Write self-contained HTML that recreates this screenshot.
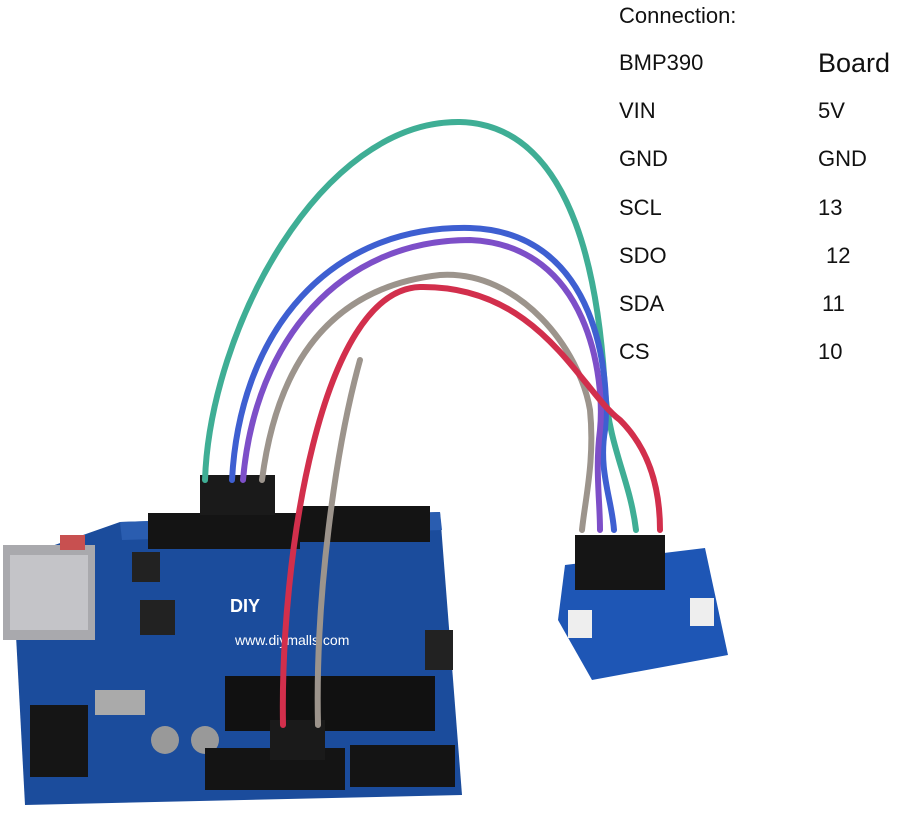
<!DOCTYPE html>
<html><head><meta charset="utf-8"><style>
html,body{margin:0;padding:0;background:#fff;width:899px;height:815px;overflow:hidden}
svg{position:absolute;left:0;top:0}
.t{position:absolute;font-family:"Liberation Sans",sans-serif;font-size:22px;color:#111;line-height:1}
</style></head><body>
<svg width="899" height="815" viewBox="0 0 899 815">
<!-- main board -->
<polygon points="120,522 440,512 462,795 25,805 12,560" fill="#1b4c9c"/>
<polygon points="120,522 440,512 442,530 122,540" fill="#2a5db0"/>
<!-- usb -->
<rect x="3" y="545" width="92" height="95" fill="#a9a9ad"/>
<rect x="10" y="555" width="78" height="75" fill="#c4c4c8"/>
<rect x="60" y="535" width="25" height="15" fill="#c85050"/>
<!-- dc jack -->
<rect x="30" y="705" width="58" height="72" fill="#151515"/>
<!-- top headers -->
<rect x="148" y="513" width="152" height="36" fill="#141414"/>
<rect x="300" y="506" width="130" height="36" fill="#141414"/>
<rect x="132" y="552" width="28" height="30" fill="#222"/>
<rect x="200" y="475" width="75" height="40" fill="#1a1a1a"/>
<!-- chip -->
<rect x="225" y="676" width="210" height="55" fill="#111"/>
<rect x="140" y="600" width="35" height="35" fill="#222"/>
<rect x="95" y="690" width="50" height="25" fill="#aaa"/>
<circle cx="165" cy="740" r="14" fill="#999"/>
<circle cx="205" cy="740" r="14" fill="#999"/>
<rect x="425" y="630" width="28" height="40" fill="#222"/>
<!-- bottom headers -->
<rect x="205" y="748" width="140" height="42" fill="#141414"/>
<rect x="350" y="745" width="105" height="42" fill="#141414"/>
<rect x="270" y="720" width="55" height="40" fill="#1a1a1a"/>
<text x="235" y="645" font-family="Liberation Sans" font-size="14" fill="#fff">www.diymalls.com</text>
<text x="230" y="612" font-family="Liberation Sans" font-size="18" font-weight="bold" fill="#fff">DIY</text>
<!-- small board -->
<polygon points="565,565 705,548 728,655 592,680 558,620" fill="#1e56b5"/>
<rect x="575" y="535" width="90" height="55" fill="#151515"/>
<rect x="568" y="610" width="24" height="28" fill="#eee"/>
<rect x="690" y="598" width="24" height="28" fill="#eee"/>
<!-- wires -->
<g fill="none" stroke-width="6" stroke-linecap="round">
<path d="M205,480 C210,330 320,120 460,122 C580,125 600,300 605,390 C610,450 630,480 636,530" stroke="#3fae95"/>
<path d="M232,480 C240,330 330,225 470,228 C600,232 610,380 605,430 C598,470 612,500 614,530" stroke="#3e5fd1"/>
<path d="M243,480 C255,340 340,240 470,240 C590,245 605,380 600,430 C595,470 600,500 600,530" stroke="#7d4fc8"/>
<path d="M262,480 C280,340 350,285 440,275 C520,270 580,350 590,410 C595,460 585,500 582,530" stroke="#9c948c"/>
<path d="M283,725 C280,560 320,290 420,287 C540,285 580,390 620,420 C650,450 660,490 660,530" stroke="#d22f4c"/>
<path d="M318,725 C315,600 335,450 360,360" stroke="#9c948c"/>
</g>
</svg>
<div class="t" style="left:619px;top:5px">Connection:</div>
<div class="t" style="left:619px;top:52px">BMP390</div>
<div class="t" style="left:818px;top:50px;font-size:27px">Board</div>
<div class="t" style="left:619px;top:100px">VIN</div><div class="t" style="left:818px;top:100px">5V</div>
<div class="t" style="left:619px;top:148px">GND</div><div class="t" style="left:818px;top:148px">GND</div>
<div class="t" style="left:619px;top:197px">SCL</div><div class="t" style="left:818px;top:197px">13</div>
<div class="t" style="left:619px;top:245px">SDO</div><div class="t" style="left:826px;top:245px">12</div>
<div class="t" style="left:619px;top:293px">SDA</div><div class="t" style="left:822px;top:293px">11</div>
<div class="t" style="left:619px;top:341px">CS</div><div class="t" style="left:818px;top:341px">10</div>
</body></html>
